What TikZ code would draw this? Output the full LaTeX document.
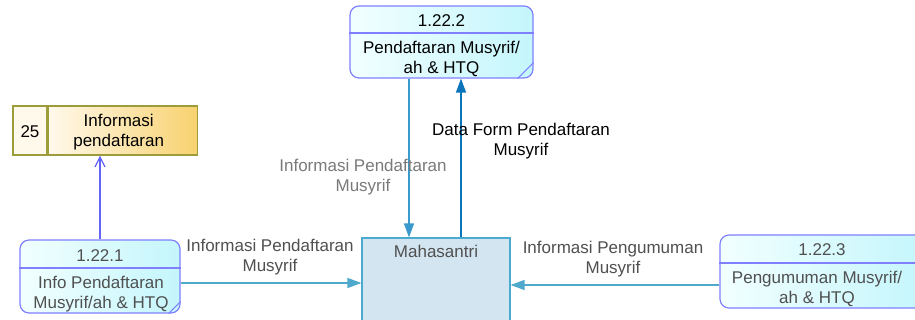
\documentclass[tikz,border=0pt]{standalone}
\usepackage{fontspec}
\setmainfont{Liberation Sans}
\usetikzlibrary{arrows.meta,calc}
\definecolor{procborder}{HTML}{8080FF}
\definecolor{procL}{HTML}{F2FFFF}
\definecolor{procR}{HTML}{C4F6FC}
\definecolor{storeborder}{HTML}{9C9C3A}
\definecolor{storeL}{HTML}{FFF9EC}
\definecolor{storeR}{HTML}{F8D270}
\definecolor{entfill}{HTML}{D3E5F0}
\definecolor{entborder}{HTML}{4AAAD0}
\definecolor{flowA}{HTML}{3A9ACB}
\definecolor{flowB}{HTML}{0A75BA}
\definecolor{flowC}{HTML}{4FA9CD}
\definecolor{storeflow}{HTML}{6464F4}
\definecolor{lblgrey}{HTML}{505050}
\definecolor{lightgrey}{HTML}{7A7A7A}
\tikzset{
  txt/.style={font=\fontsize{17}{20}\selectfont, align=center, inner sep=0pt, yshift=-1.5pt},
  process/.style={draw=procborder, line width=1.2pt, rounded corners=9pt,
    left color=procL, right color=procR, inner sep=0pt},
  entity/.style={draw=entborder, line width=1.2pt, fill=entfill, inner sep=0pt},
  flow/.style={line width=1.3pt, -{Triangle[length=14pt,width=10pt]}},
  sflow/.style={line width=1.2pt, draw=storeflow, -{Straight Barb[length=10pt,width=10pt]}},
}
\begin{document}
\begin{tikzpicture}[x=1pt,y=-1pt]
\useasboundingbox (0,0) rectangle (915,320);
\fill[white] (0,0) rectangle (915,320);

% Data store 25
\node[draw=storeborder, line width=1.2pt, fill=storeL, minimum width=34pt, minimum height=49pt, inner sep=0pt] (sA) at (30,130.5) {};
\node[draw=storeborder, line width=1.2pt, left color=storeL, right color=storeR, minimum width=149pt, minimum height=49pt, inner sep=0pt, anchor=west] (sB) at (sA.east) {};
\node[txt] (sAn) at (sA.center) {25};
\node[txt] (sBn) at ([xshift=-4pt]sB.center) {Informasi\\pendaftaran};

% Entity Mahasantri
\node[entity, minimum width=148pt, minimum height=110pt] (ms) at (436,293) {};
\node[txt, text=lblgrey, anchor=north] (msl) at ([yshift=-6pt]ms.north) {Mahasantri};

% Process 1.22.2
\node[process, minimum width=183pt, minimum height=72pt] (p2) at (441.5,42) {};
\draw[procborder, line width=1.2pt] (p2.west |- 0,33) -- (p2.east |- 0,33);
\node[txt] (p2id) at (441.5,19) {1.22.2};
\node[txt] (p2n) at (441.5,57) {Pendaftaran Musyrif/\\ah \& HTQ};
\draw[procborder, line width=1pt] ([xshift=-16pt]p2.south east) -- ([yshift=16pt]p2.south east);

% Process 1.22.1
\node[process, minimum width=160pt, minimum height=73pt] (p1) at (100,276.5) {};
\draw[procborder, line width=1.2pt] (p1.west |- 0,268) -- (p1.east |- 0,268);
\node[txt, text=lblgrey] (p1id) at (100,254) {1.22.1};
\node[txt, text=lblgrey] (p1n) at (101,292.5) {Info Pendaftaran\\Musyrif/ah \& HTQ};
\draw[procborder, line width=1pt] ([xshift=-12pt]p1.south east) -- ([yshift=12pt]p1.south east);

% Process 1.22.3
\node[process, minimum width=206pt, minimum height=73pt] (p3) at (823,271.5) {};
\draw[procborder, line width=1.2pt] (p3.west |- 0,263) -- (p3.east |- 0,263);
\node[txt, text=lblgrey] (p3id) at (822,248) {1.22.3};
\node[txt, text=lblgrey] (p3n) at (817,287) {Pengumuman Musyrif/\\ah \& HTQ};

% Flows
\coordinate (xa) at (409,0);
\coordinate (xb) at (461,0);
\draw[flow, draw=flowA, fill=flowA] (p2.south -| xa) -- (ms.north -| xa);
\draw[flow, draw=flowB, fill=flowB] (ms.north -| xb) -- (p2.south -| xb);
\coordinate (ya) at (0,283);
\coordinate (yb) at (0,285);
\draw[flow, draw=flowC, fill=flowC] (p1.east |- ya) -- (ms.west |- ya);
\draw[flow, draw=flowC, fill=flowC] (p3.west |- yb) -- (ms.east |- yb);
\draw[sflow] (p1.north) -- (p1.north |- sB.south);

% Labels
\node[txt] (l1) at (521,140) {Data Form Pendaftaran\\Musyrif};
\node[txt, text=lightgrey] (l2) at (363,175.5) {Informasi Pendaftaran\\Musyrif};
\node[txt, text=lblgrey] (l3) at (270,256) {Informasi Pendaftaran\\Musyrif};
\node[txt, text=lblgrey] (l4) at (613,258) {Informasi Pengumuman\\Musyrif};
\end{tikzpicture}
\end{document}
